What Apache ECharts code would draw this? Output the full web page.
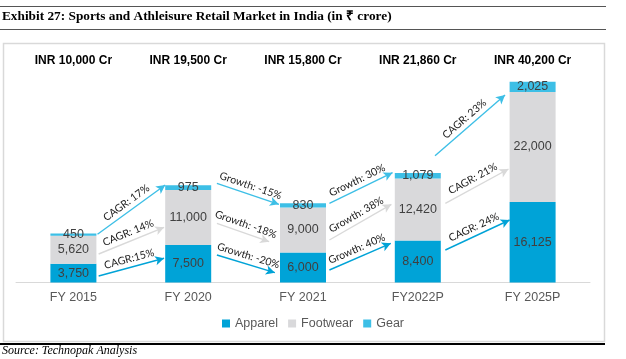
<!DOCTYPE html>
<html>
<head>
<meta charset="utf-8">
<script src="https://cdn.jsdelivr.net/npm/echarts@6/dist/echarts.min.js"></script>
<style>html,body{margin:0;padding:0;background:#fff}#c{width:626px;height:359px}</style>
</head>
<body>
<div id="c"></div>
<script>
const categories = ['FY 2015', 'FY 2020', 'FY 2021', 'FY2022P', 'FY 2025P'];
const apparel = [3750, 7500, 6000, 8400, 16125];
const footwear = [5620, 11000, 9000, 12420, 22000];
const gear = [450, 975, 830, 1079, 2025];
const totals = ['INR 10,000 Cr', 'INR 19,500 Cr', 'INR 15,800 Cr', 'INR 21,860 Cr', 'INR 40,200 Cr'];
// arrows: [fromCategoryPos, fromValue, toCategoryPos, toValue, label, kind]
const arrows = [
  [0.21, 9640, 0.80, 19500, 'CAGR: 17%', 'gear'],
  [0.22, 5700, 0.79, 11040, 'CAGR: 14%', 'footwear'],
  [0.22, 1300, 0.79, 4840, 'CAGR:15%', 'apparel'],
  [1.25, 19840, 1.79, 15640, 'Growth: -15%', 'gear'],
  [1.25, 11840, 1.705, 8160, 'Growth: -18%', 'footwear'],
  [1.25, 5500, 1.755, 1960, 'Growth: -20%', 'apparel'],
  [2.23, 15840, 2.78, 21960, 'Growth: 30%', 'gear'],
  [2.23, 8500, 2.77, 15640, 'Growth: 38%', 'footwear'],
  [2.23, 2500, 2.765, 7840, 'Growth: 40%', 'apparel'],
  [3.15, 25360, 3.76, 37500, 'CAGR: 23%', 'gear'],
  [3.24, 15840, 3.79, 22700, 'CAGR: 21%', 'footwear'],
  [3.24, 6500, 3.80, 12500, 'CAGR: 24%', 'apparel']
];

const colors = { apparel: '#00A3D7', footwear: '#D9D9DB', gear: '#3DBFE6' };
const arrowColors = { apparel: '#00A3D7', footwear: '#D9D9D9', gear: '#3DBFE6' };
const FONT = '"Liberation Sans", Arial, sans-serif';

const chart = echarts.init(document.getElementById('c'));

function barSeries(name, data, color) {
  return {
    name: name, type: 'bar', stack: 'total', data: data, barWidth: 46,
    itemStyle: { color: color },
    emphasis: { disabled: true },
    label: {
      show: true, position: 'inside', color: '#404040', fontSize: 12.5, fontFamily: FONT,
      formatter: p => p.value.toLocaleString('en-US')
    }
  };
}

chart.setOption({
  animation: false,
  grid: { left: 16, right: 36, top: 32.5, height: 250 },
  legend: {
    bottom: 24, left: 'center', itemWidth: 8, itemHeight: 8, itemGap: 10, icon: 'rect',
    textStyle: { color: '#595959', fontSize: 12.5, fontFamily: FONT },
    data: ['Apparel', 'Footwear', 'Gear']
  },
  xAxis: {
    type: 'category', data: categories,
    axisLine: { lineStyle: { color: '#D9D9D9', width: 1 } },
    axisTick: { show: false },
    axisLabel: { color: '#595959', fontSize: 12.5, fontFamily: FONT, margin: 9 }
  },
  yAxis: { type: 'value', min: 0, max: 50000, show: false, splitLine: { show: false } },
  series: [
    barSeries('Apparel', apparel, colors.apparel),
    barSeries('Footwear', footwear, colors.footwear),
    barSeries('Gear', gear, colors.gear)
  ]
});

const c0 = chart.convertToPixel({ xAxisIndex: 0 }, 0);
const c1 = chart.convertToPixel({ xAxisIndex: 0 }, 1);
const step = c1 - c0;
const px = pos => c0 + pos * step;
const py = v => chart.convertToPixel({ yAxisIndex: 0 }, v);

const lineData = arrows.map(a => [
  {
    x: px(a[0]), y: py(a[1]),
    lineStyle: { color: arrowColors[a[5]], width: 1.4, type: 'solid' },
    label: {
      show: true, formatter: a[4], position: 'insideMiddleTop', distance: 3,
      color: '#1a1a1a', fontSize: 10.5, fontFamily: 'Lato, "Open Sans", sans-serif'
    }
  },
  { x: px(a[2]), y: py(a[3]) }
]);

const graphics = [
  { type: 'line', shape: { x1: 0, y1: 6.5, x2: 606, y2: 6.5 }, style: { stroke: '#555', lineWidth: 1 } },
  { type: 'text', left: 2, top: 10, style: { text: 'Exhibit 27: Sports and Athleisure Retail Market in India (in ₹ crore)', font: 'bold 13.3px "Liberation Serif", "Times New Roman", serif', fill: '#000' } },
  { type: 'line', shape: { x1: 0, y1: 29.5, x2: 606, y2: 29.5 }, style: { stroke: '#555', lineWidth: 1 } },
  { type: 'rect', shape: { x: 3.5, y: 43.5, width: 601, height: 298 }, style: { fill: 'none', stroke: '#D9D9D9', lineWidth: 1.5 }, z: -1 },
  { type: 'line', shape: { x1: 0, y1: 344, x2: 605, y2: 344 }, style: { stroke: '#000', lineWidth: 2 } },
  { type: 'text', left: 2, top: 345, style: { text: 'Source: Technopak Analysis', font: 'italic 12px "Liberation Serif", "Times New Roman", serif', fill: '#000' } }
];
totals.forEach((t, i) => {
  graphics.push({
    type: 'text', x: px(i), y: 61,
    style: { text: t, font: 'bold 12px ' + FONT, fill: '#000', align: 'center', verticalAlign: 'middle' }
  });
});

chart.setOption({
  graphic: graphics,
  series: [{
    id: 'arrows', type: 'line', data: [], silent: true,
    markLine: {
      silent: true, symbol: ['none', 'arrow'], symbolSize: [7, 9],
      emphasis: { disabled: true },
      data: lineData
    }
  }]
});
</script>
</body>
</html>
